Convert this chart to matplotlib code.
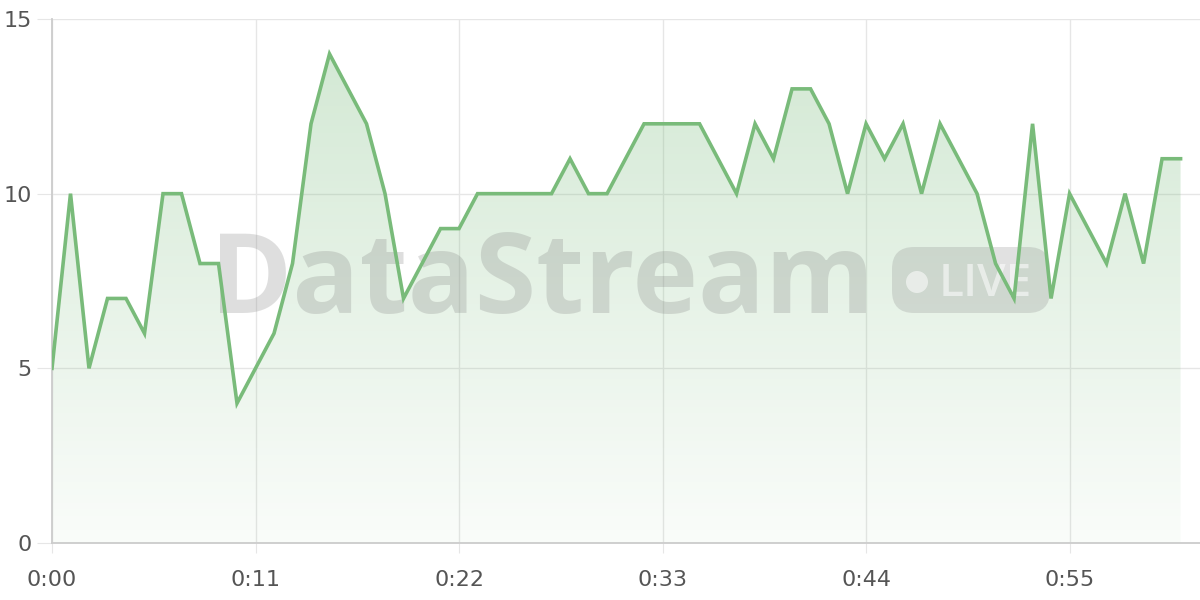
import numpy as np
import matplotlib
matplotlib.use('Agg')
import matplotlib.pyplot as plt
from matplotlib.patches import FancyBboxPatch, Circle

# one value per second
seconds = np.arange(62)
values = [5, 10, 5, 7, 7, 6, 10, 10, 8, 8,
          4, 5, 6, 8, 12, 14, 13, 12, 10, 7,
          8, 9, 9, 10, 10, 10, 10, 10, 11, 10,
          10, 11, 12, 12, 12, 12, 11, 10, 12, 11,
          13, 13, 12, 10, 12, 11, 12, 10, 12, 11,
          10, 8, 7, 12, 7, 10, 9, 8, 10, 8,
          11, 11]
xtick_pos = [0, 11, 22, 33, 44, 55]
xtick_lab = ['0:00', '0:11', '0:22', '0:33', '0:44', '0:55']
ytick_pos = [0, 5, 10, 15]

line_col = '#79bb7a'
grid_col = '#e6e6e6'
text_col = '#555555'

fig = plt.figure(figsize=(12, 6), dpi=100)
ax = fig.add_axes([52/1200, 57/600, (1200-52)/1200, (543-19)/600])

ax.set_xlim(0, 62.05)
ax.set_ylim(0, 15)

# gradient fill under the line
poly = ax.fill_between(seconds, values, 0, color='none', lw=0)
grad = np.linspace(0.04, 0.32, 256).reshape(-1, 1)
rgba = np.zeros((256, 1, 4))
rgba[..., 0] = 0.47
rgba[..., 1] = 0.73
rgba[..., 2] = 0.48
rgba[..., 3] = grad
img = ax.imshow(rgba, extent=[0, 62.05, 0, 14], origin='lower', aspect='auto', zorder=1)
path = poly.get_paths()[0]
img.set_clip_path(path, transform=ax.transData)

ax.plot(seconds, values, color=line_col, lw=2.6, zorder=4, solid_joinstyle='miter')

ax.set_xticks(xtick_pos)
ax.set_xticklabels(xtick_lab)
ax.set_yticks(ytick_pos)
ax.grid(True, color=grid_col, lw=1)
ax.set_axisbelow(True)
for s in ['top', 'right']:
    ax.spines[s].set_visible(False)
for s in ['left', 'bottom']:
    ax.spines[s].set_color('#cccccc')
    ax.spines[s].set_linewidth(1.3)
ax.tick_params(axis='y', length=11, color=grid_col, labelsize=16, labelcolor=text_col, pad=3.5)
ax.tick_params(axis='x', length=7.5, color=grid_col, labelsize=16, labelcolor=text_col, pad=12)

# watermark, behind the line
ax.text((210-52)/1148, (543-313)/524, 'DataStream', ha='left', va='baseline',
        transform=ax.transAxes, fontsize=80, fontweight='bold', family='Open Sans',
        color='#7f7f7f', alpha=0.25, zorder=2)
badge = FancyBboxPatch((892, 600-313), 158, 66,
                       boxstyle='round,pad=0,rounding_size=22',
                       transform=None, facecolor='#8a8a8a',
                       alpha=0.25, lw=0, zorder=2)
ax.add_patch(badge)
dot = Circle((917, 600-282), 11, transform=None, facecolor='white',
             alpha=0.55, lw=0, zorder=3)
ax.add_patch(dot)
ax.text((939-52)/1148, (543-296)/524, 'LIVE', ha='left', va='baseline',
        transform=ax.transAxes, fontsize=33, fontweight='semibold', family='Open Sans',
        color='white', alpha=0.55, zorder=3)

fig.savefig('out.png', dpi=100)
